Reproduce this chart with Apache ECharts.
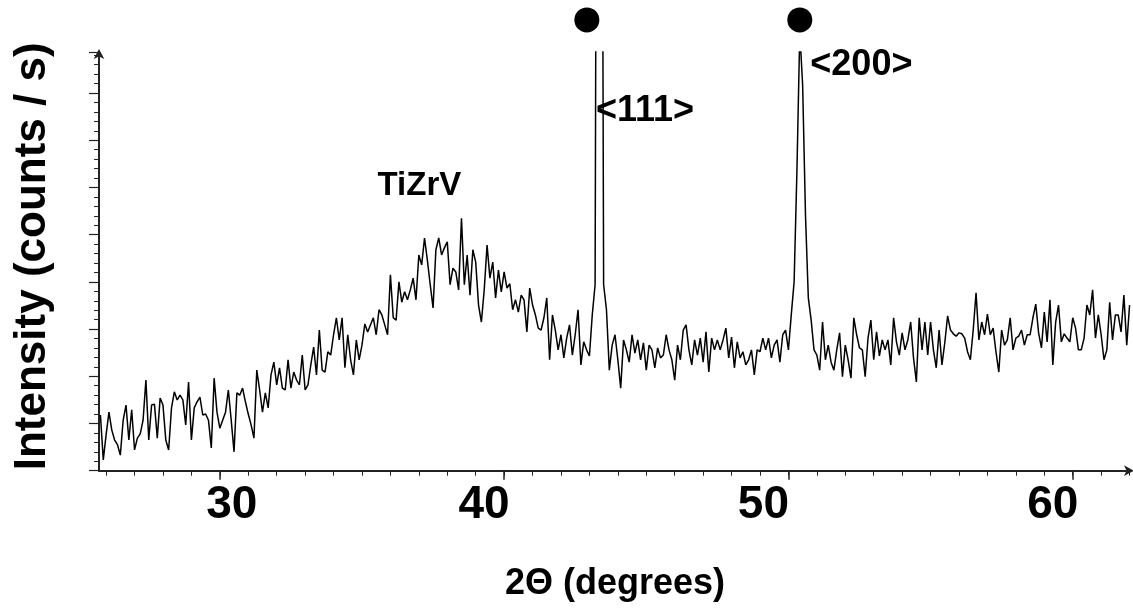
<!DOCTYPE html>
<html><head><meta charset="utf-8">
<script src="https://cdn.jsdelivr.net/npm/echarts@6/dist/echarts.min.js"></script>
<style>html,body{margin:0;padding:0;background:#fff}#c{width:1133px;height:616px}</style>
</head><body><div id="c"></div>
<script>
// ---- data ----
const scanStart = 25.8;   // first 2-theta sample (degrees)
const scanStep = 0.1;     // sampling step (degrees)
const intensity = [
118,23,76,124,86,65,55,33,107,139,
65,129,44,69,78,107,192,65,139,141,
69,154,139,65,44,133,167,150,160,150,
97,188,65,133,146,156,118,120,107,48,
196,124,90,107,124,171,107,40,165,160,
175,146,120,97,69,213,171,124,165,133,
203,230,182,218,175,171,235,175,209,192,
182,245,171,182,224,262,203,298,213,209,
252,245,288,324,277,324,218,288,235,203,
277,235,266,311,294,309,324,288,341,330,
309,288,415,324,319,400,357,379,362,383,
408,362,457,436,493,446,394,345,468,493,
457,472,485,394,429,421,383,535,394,457,
372,468,442,351,315,383,478,408,442,366,
425,379,421,387,396,341,362,336,372,362,
294,387,351,330,302,298,324,366,235,330,
298,256,288,239,281,309,245,288,341,224,
273,256,243,330,394,2600,2400,394,341,213,
266,288,235,175,277,256,230,288,249,277,
235,271,213,266,256,218,260,239,245,288,
256,235,192,266,235,298,309,256,224,277,
245,281,230,294,209,281,256,277,256,277,
302,239,283,218,273,239,252,224,235,256,
203,256,252,281,256,281,239,266,277,230,
288,298,256,330,400,637,930,817,542,366,
319,256,245,213,315,235,266,230,213,256,
292,199,266,235,196,324,288,260,256,199,
281,319,235,294,243,277,256,277,224,324,
273,245,292,256,277,315,239,188,324,256,
315,245,315,256,218,298,224,271,328,298,
290,285,292,290,281,252,235,298,377,277,
315,288,332,288,302,252,209,298,266,277,
324,256,281,285,298,266,288,288,324,353,
292,260,336,273,362,224,315,351,273,290,
281,273,324,302,256,256,281,351,330,383,
281,330,288,235,256,357,277,330,330,294,
372,266,351
];
const majorTicks = [30, 40, 50, 60];
const minorTicks = [26,27,28,29,30,31,32,33,34,35,36,37,38,39,40,41,42,43,44,45,46,47,48,49,50,51,52,53,54,55,56,57,58,59,60,61,62];
const phaseMarkers = [[42.91, 955], [50.40, 955]];
const annotationNames = ['TiZrV', '<111>', '<200>'];
const annotationPos = [[37.02, 603], [43.23, 761], [50.77, 860]];
const annotationAlign = ['center', 'left', 'left'];
const annotationSize = [33, 36, 36];
const xTitle = '2\u0398 (degrees)';
const yTitle = 'Intensity (counts / s)';

// ---- build ----
const FONT = "'Liberation Sans', Arial, sans-serif";
const scanData = intensity.map((v, i) => [Math.round((scanStart + i * scanStep) * 10) / 10, v]);
const annotations = annotationNames.map((n, i) => ({
  name: n, value: annotationPos[i], label: { align: annotationAlign[i], fontSize: annotationSize[i] }
}));
const tickBase = { fontFamily: FONT, fontSize: 46, fontWeight: 'bold', color: '#000' };
const labelStyleKey = { 30: 'a', 40: 'b', 50: 'c', 60: 'b' };

const chart = echarts.init(document.getElementById('c'), null, { renderer: 'canvas' });
chart.setOption({
  animation: false,
  backgroundColor: '#fff',
  grid: { left: 99, right: 2, top: 52, bottom: 145.3, containLabel: false },
  xAxis: [
    {
      type: 'value', min: 25.75, max: 62.05,
      name: xTitle, nameLocation: 'middle', nameGap: 95,
      nameTextStyle: { fontFamily: FONT, fontSize: 36, fontWeight: 'bold', color: '#000',
        textShadowColor: '#9a9a9a', textShadowOffsetX: 2, textShadowOffsetY: 2, textShadowBlur: 0 },
      axisLine: { show: true, symbol: ['none', 'arrow'], symbolSize: [8, 10], symbolOffset: [0, 3],
        lineStyle: { color: '#222', width: 2 } },
      axisTick: { show: true, customValues: majorTicks, length: 9, inside: false, lineStyle: { color: '#222', width: 1.5 } },
      axisLabel: {
        show: true, customValues: majorTicks, margin: 12,
        formatter: v => '{' + (labelStyleKey[v] || 'b') + '|' + v + '}',
        rich: {
          a: Object.assign({}, tickBase, { padding: [0, 0, 0, 24] }),
          b: Object.assign({}, tickBase, { padding: [0, 40, 0, 0] }),
          c: Object.assign({}, tickBase, { padding: [0, 50, 0, 0] })
        }
      },
      splitLine: { show: false }
    },
    {
      type: 'value', min: 25.75, max: 62.05, position: 'bottom',
      axisLine: { show: false },
      axisTick: { show: true, customValues: minorTicks, length: 5, lineStyle: { color: '#222', width: 1 } },
      axisLabel: { show: false },
      splitLine: { show: false }
    }
  ],
  yAxis: {
    type: 'value', min: 0, max: 887, interval: 100,
    name: yTitle, nameLocation: 'middle', nameGap: 44,
    nameTextStyle: { fontFamily: FONT, fontSize: 44, fontWeight: 'bold', color: '#000',
      padding: [0, 0, 0, 10],
      textShadowColor: '#9a9a9a', textShadowOffsetX: 2, textShadowOffsetY: 2, textShadowBlur: 0 },
    axisLine: { show: true, symbol: ['none', 'arrow'], symbolSize: [8, 10], symbolOffset: [0, 3],
      lineStyle: { color: '#222', width: 2 } },
    axisTick: { show: true, length: 10, lineStyle: { color: '#222', width: 1.2 } },
    minorTick: { show: true, splitNumber: 5, length: 5, lineStyle: { color: '#222', width: 1 } },
    axisLabel: { show: false },
    splitLine: { show: false }
  },
  series: [
    {
      type: 'line', data: scanData, xAxisIndex: 0, showSymbol: false, symbol: 'none',
      clip: true, lineStyle: { color: '#000', width: 1.5 }, emphasis: { disabled: true }
    },
    {
      type: 'scatter', data: phaseMarkers, xAxisIndex: 0, symbol: 'circle', symbolSize: 25,
      clip: false, itemStyle: { color: '#000', opacity: 1 }, emphasis: { disabled: true }
    },
    {
      type: 'scatter', data: annotations, xAxisIndex: 0, symbolSize: 1, clip: false,
      itemStyle: { color: 'rgba(0,0,0,0)', opacity: 1 }, emphasis: { disabled: true },
      labelLayout: { hideOverlap: false },
      label: { show: true, formatter: '{b}', position: 'inside', verticalAlign: 'middle',
        fontFamily: FONT, fontSize: 33, fontWeight: 'bold', color: '#000' }
    }
  ]
});
</script>
</body></html>
